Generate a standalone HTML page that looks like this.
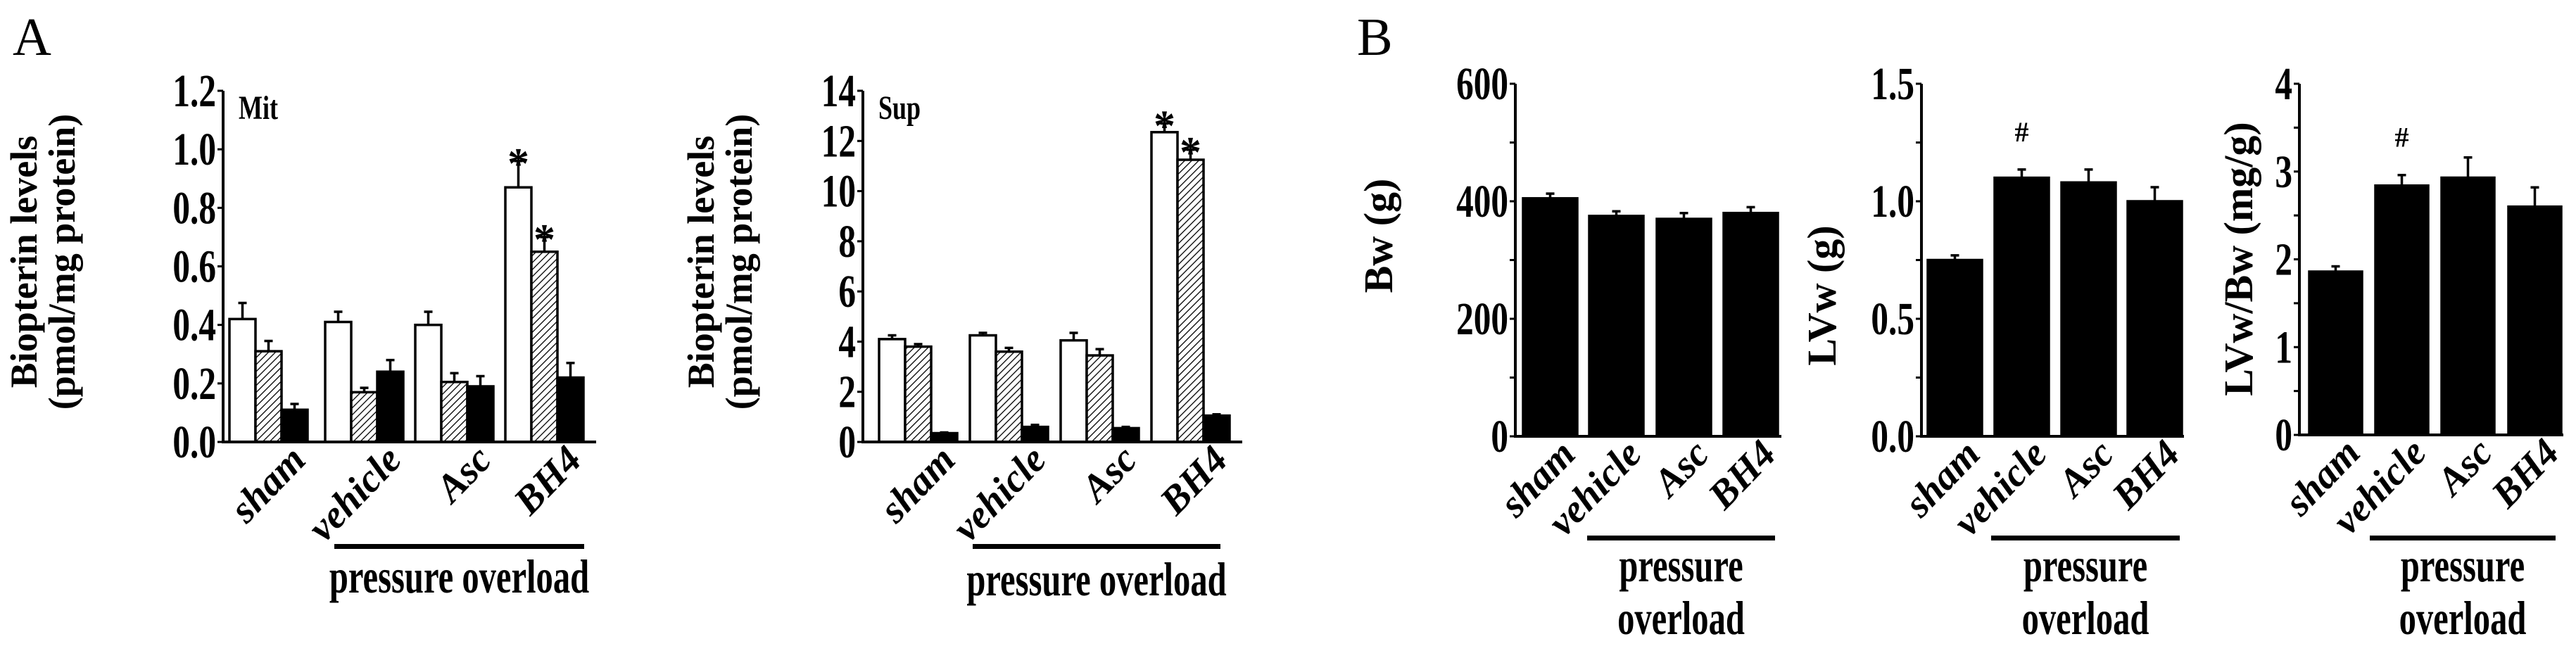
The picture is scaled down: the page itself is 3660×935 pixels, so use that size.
<!DOCTYPE html>
<html><head><meta charset="utf-8">
<style>html,body{margin:0;padding:0;background:#fff;}svg{display:block;}
text{font-family:"Liberation Serif",serif;fill:#000;}</style></head>
<body>
<svg id="fig" xmlns="http://www.w3.org/2000/svg" width="3660" height="935" viewBox="0 0 3660 935">
<defs>
<pattern id="hatch" patternUnits="userSpaceOnUse" width="7" height="7" patternTransform="rotate(45)">
<rect width="7" height="7" fill="#fff"/><line x1="0" y1="0" x2="0" y2="7" stroke="#000" stroke-width="2.6"/>
</pattern>
</defs>
<text x="18" y="78" font-size="76">A</text>
<text x="1928" y="78" font-size="76">B</text>
</svg>
<script>
const categories = ["sham","vehicle","Asc","BH4"];
const mitWhite = [0.42,0.41,0.40,0.87];
const mitWhiteErr = [0.055,0.035,0.045,0.09];
const mitHatch = [0.31,0.17,0.205,0.65];
const mitHatchErr = [0.035,0.015,0.03,0.05];
const mitBlack = [0.11,0.24,0.19,0.22];
const mitBlackErr = [0.02,0.04,0.035,0.05];
const mitTicks = ["0.0","0.2","0.4","0.6","0.8","1.0","1.2"];
const supWhite = [4.1,4.25,4.05,12.35];
const supWhiteErr = [0.15,0.1,0.3,0.35];
const supHatch = [3.8,3.6,3.45,11.25];
const supHatchErr = [0.1,0.15,0.25,0.4];
const supBlack = [0.35,0.6,0.55,1.05];
const supBlackErr = [0.03,0.08,0.05,0.05];
const supTicks = ["0","2","4","6","8","10","12","14"];
const bwValues = [405,375,370,380];
const bwErr = [8,8,10,10];
const bwTicks = ["0","200","400","600"];
const lvwValues = [0.75,1.10,1.08,1.0];
const lvwErr = [0.02,0.035,0.055,0.06];
const lvwTicks = ["0.0","0.5","1.0","1.5"];
const ratioValues = [1.86,2.84,2.93,2.6];
const ratioErr = [0.06,0.12,0.23,0.22];
const ratioTicks = ["0","1","2","3","4"];

const svg = document.getElementById('fig');
const NS = 'http://www.w3.org/2000/svg';
function mk(tag, attrs, parent){
  const e = document.createElementNS(NS, tag);
  for (const k in attrs) e.setAttribute(k, attrs[k]);
  (parent||svg).appendChild(e);
  return e;
}
function txt(s, attrs, parent){ const e = mk('text', attrs, parent); e.textContent = s; return e; }

function panel(cfg){
  const g = mk('g', {});
  
  
  const x0 = cfg.x0, top = cfg.top, bot = cfg.bot, max = cfg.max;
  const y = v => bot - v / max * (bot - top);
  cfg.series.forEach((s, si) => {
    s.vals.forEach((v, i) => {
      const bx = cfg.groupX[i] + si * cfg.bw;
      const r = mk('rect', {x: bx, y: y(v), width: cfg.bw, height: bot - y(v), fill: s.fill, stroke: '#000', 'stroke-width': 3.5}, g);
      
      
      const cx = bx + cfg.bw / 2, ye = y(v + s.err[i]);
      const eb = mk('path', {d: `M${cx},${y(v)}V${ye}M${cx-6},${ye}H${cx+6}`, stroke: '#000', 'stroke-width': 3.5, fill: 'none'}, g);
      
      
      if (s.marks && s.marks[i]) {
        const m = txt(s.marks[i], {x: cx, y: ye - (s.marks[i] === '*' ? 10 : 40), 'font-size': s.marks[i] === '*' ? 62 : 40, 'text-anchor': 'middle', 'font-weight': 'bold'}, g);
        if (s.marks[i] === '*') m.setAttribute('dy', '34');
        
        
      }
    });
  });
  const ax = mk('path', {d: `M${x0},${top}V${bot}H${cfg.xend}`, stroke: '#000', 'stroke-width': 4, fill: 'none'}, g);
  
  
  const n = cfg.ticks.length - 1;
  cfg.ticks.forEach((t, i) => {
    const ty = bot - i / n * (bot - top);
    mk('line', {x1: x0 - 8, x2: x0, y1: ty, y2: ty, stroke: '#000', 'stroke-width': 3}, g);
    const l = txt(t, {x: 0, y: 0, transform: `translate(${x0 - 10},${ty + 22}) scale(0.88,1.18)`, 'font-size': 56, 'font-weight': 'bold', 'text-anchor': 'end'}, g);
    
    
    if (cfg.minor && i < n) {
      const my = ty - 0.5 / n * (bot - top);
      mk('line', {x1: x0 - 8, x2: x0, y1: my, y2: my, stroke: '#000', 'stroke-width': 3}, g);
    }
  });
  const yl = mk('text', {transform: `translate(${cfg.ylx},${cfg.yly}) rotate(-90)`, 'text-anchor': 'middle', 'font-size': cfg.ylsize || 50, 'font-weight': 'bold'}, g);
  
  
  cfg.ylab.forEach((line, li) => { const ts = mk('tspan', {x: 0, dy: li ? 54 : 0}, yl); ts.textContent = line; });
  if (cfg.tag) {
    const tg = txt(cfg.tag, {x: 0, y: 0, transform: `translate(${x0 + 22},${top + 40}) scale(0.9,1.2)`, 'font-size': 40, 'font-weight': 'bold'}, g);
    
    
  }
  categories.forEach((c, i) => {
    const ex = cfg.groupX[i] + cfg.series.length * cfg.bw + cfg.catDx;
    const ct = txt(c, {x: 0, y: 0, transform: `translate(${ex},${bot + 28}) rotate(-46)`, 'text-anchor': 'end', 'font-size': 56, 'font-weight': 'bold', 'font-style': 'italic'}, g);
    
    
  });
  const br = mk('rect', {x: cfg.brX1, y: cfg.brY - 3, width: cfg.brX2 - cfg.brX1, height: 7, fill: '#000'}, g);
  
  
  const cx = (cfg.brX1 + cfg.brX2) / 2;
  cfg.group.forEach((line, li) => {
    const gt = txt(line, {x: 0, y: 0, transform: `translate(${cx},${cfg.gY + li * 75}) scale(0.9,1.25)`, 'font-size': 54, 'font-weight': 'bold', 'text-anchor': 'middle'}, g);
    
    
  });
}

panel({name:'mit-chart', x0:317, top:129, bot:628, xend:847, max:1.2, ticks:mitTicks, bw:37,
  groupX:[326,462,590,718], catDx:0,
  series:[{key:'white',vals:mitWhite,err:mitWhiteErr,fill:'#fff',marks:['','','','*']},
          {key:'hatched',vals:mitHatch,err:mitHatchErr,fill:'url(#hatch)',marks:['','','','*']},
          {key:'black',vals:mitBlack,err:mitBlackErr,fill:'#000'}],
  ylab:['Biopterin levels','(pmol/mg protein)'], ylx:52, yly:372, ylsize:54, tag:'Mit',
  brX1:475, brX2:830, brY:776, group:['pressure overload'], gY:842});
panel({name:'sup-chart', x0:1226, top:129, bot:628, xend:1765, max:14, ticks:supTicks, bw:37,
  groupX:[1249,1378,1507,1636], catDx:0,
  series:[{key:'white',vals:supWhite,err:supWhiteErr,fill:'#fff',marks:['','','','*']},
          {key:'hatched',vals:supHatch,err:supHatchErr,fill:'url(#hatch)',marks:['','','','*']},
          {key:'black',vals:supBlack,err:supBlackErr,fill:'#000'}],
  ylab:['Biopterin levels','(pmol/mg protein)'], ylx:1014, yly:372, ylsize:54, tag:'Sup',
  brX1:1382, brX2:1734, brY:776, group:['pressure overload'], gY:846});
panel({name:'bw-chart', x0:2153, top:119, bot:620, xend:2531, max:600, ticks:bwTicks, bw:77, minor:true,
  groupX:[2164,2258,2354,2449], catDx:0,
  series:[{key:'black',vals:bwValues,err:bwErr,fill:'#000'}],
  ylab:['Bw (g)'], ylx:1978, yly:335, ylsize:58,
  brX1:2255, brX2:2522, brY:764, group:['pressure','overload'], gY:826});
panel({name:'lvw-chart', x0:2730, top:119, bot:620, xend:3103, max:1.5, ticks:lvwTicks, bw:77, minor:true,
  groupX:[2739,2834,2929,3023], catDx:0,
  series:[{key:'black',vals:lvwValues,err:lvwErr,fill:'#000',marks:['','#','','']}],
  ylab:['LVw (g)'], ylx:2608, yly:420, ylsize:58,
  brX1:2829, brX2:3097, brY:764, group:['pressure','overload'], gY:826});
panel({name:'lvw-bw-chart', x0:3267, top:119, bot:618, xend:3642, max:4, ticks:ratioTicks, bw:75, minor:true,
  groupX:[3281,3375,3469,3564], catDx:0,
  series:[{key:'black',vals:ratioValues,err:ratioErr,fill:'#000',marks:['','#','','']}],
  ylab:['LVw/Bw (mg/g)'], ylx:3200, yly:368, ylsize:58,
  brX1:3367, brX2:3631, brY:764, group:['pressure','overload'], gY:826});
</script>
</body></html>
